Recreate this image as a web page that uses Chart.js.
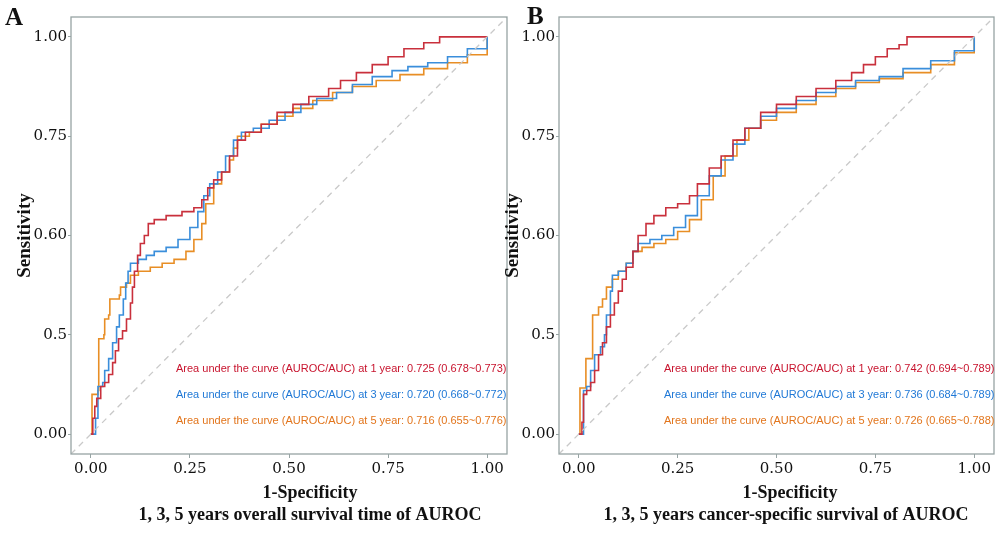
<!DOCTYPE html>
<html>
<head>
<meta charset="utf-8">
<script src="https://cdn.jsdelivr.net/npm/chart.js@4.4.1/dist/chart.umd.min.js"></script>
<style>
  html, body { margin: 0; padding: 0; background: #ffffff; }
  body { width: 1000px; height: 534px; position: relative; overflow: hidden; }
  .pane { position: absolute; top: 0; width: 510px; height: 534px; }
  #paneA { left: 0; }
  #paneB { left: 488px; }
</style>
</head>
<body>
<div class="pane" id="paneA"><canvas id="chartA"></canvas></div>
<div class="pane" id="paneB"><canvas id="chartB"></canvas></div>
<script>
// ---------- tick labels ----------
const xTickValues = [0, 0.25, 0.5, 0.75, 1];
const xTickLabels = ["0.00", "0.25", "0.50", "0.75", "1.00"];
const yTickValues = [0, 0.25, 0.5, 0.75, 1];
const yTickLabels = ["0.00", "0.5", "0.60", "0.75", "1.00"];

// ---------- texts ----------
const panelLetters = ["A", "B"];
const panelTitles = ["1, 3, 5 years overall survival time of AUROC", "1, 3, 5 years cancer-specific survival of AUROC"];
const xAxisTitle = "1-Specificity";
const yAxisTitle = "Sensitivity";
const aucTextA = [
  "Area under the curve (AUROC/AUC) at 1 year: 0.725 (0.678~0.773)",
  "Area under the curve (AUROC/AUC) at 3 year: 0.720 (0.668~0.772)",
  "Area under the curve (AUROC/AUC) at 5 year: 0.716 (0.655~0.776)"
];
const aucTextB = [
  "Area under the curve (AUROC/AUC) at 1 year: 0.742 (0.694~0.789)",
  "Area under the curve (AUROC/AUC) at 3 year: 0.736 (0.684~0.789)",
  "Area under the curve (AUROC/AUC) at 5 year: 0.726 (0.665~0.788)"
];

// reference diagonal (1-Specificity, Sensitivity)
const diagonal = [[-0.05, -0.05], [1.05, 1.05]];

// ---------- Panel A: overall survival ROC points [1-specificity, sensitivity] ----------
const rocA1 = [[0,0],[0.005,0.04],[0.01,0.07],[0.015,0.09],[0.025,0.12],[0.035,0.13],[0.045,0.15],[0.055,0.18],[0.062,0.21],[0.07,0.24],[0.08,0.26],[0.09,0.29],[0.1,0.33],[0.105,0.37],[0.11,0.41],[0.118,0.45],[0.125,0.48],[0.135,0.5],[0.145,0.53],[0.16,0.54],[0.19,0.55],[0.23,0.56],[0.26,0.57],[0.28,0.59],[0.295,0.62],[0.31,0.64],[0.33,0.66],[0.35,0.7],[0.37,0.74],[0.39,0.76],[0.43,0.78],[0.47,0.81],[0.51,0.83],[0.55,0.85],[0.6,0.87],[0.63,0.89],[0.67,0.91],[0.71,0.93],[0.75,0.95],[0.79,0.97],[0.84,0.985],[0.88,1.0],[1,1]];
const rocA3 = [[0,0],[0.012,0.04],[0.018,0.12],[0.03,0.13],[0.035,0.16],[0.045,0.19],[0.055,0.23],[0.065,0.27],[0.072,0.3],[0.082,0.34],[0.088,0.38],[0.094,0.41],[0.1,0.43],[0.12,0.44],[0.14,0.45],[0.16,0.46],[0.19,0.47],[0.22,0.49],[0.25,0.52],[0.27,0.56],[0.285,0.6],[0.3,0.63],[0.32,0.66],[0.34,0.7],[0.36,0.74],[0.38,0.76],[0.41,0.77],[0.45,0.79],[0.49,0.81],[0.53,0.83],[0.57,0.845],[0.62,0.86],[0.66,0.88],[0.71,0.9],[0.76,0.915],[0.8,0.925],[0.85,0.935],[0.9,0.95],[0.95,0.97],[1,1]];
const rocA5 = [[0,0],[0.003,0.1],[0.018,0.11],[0.02,0.24],[0.033,0.25],[0.035,0.29],[0.045,0.3],[0.048,0.34],[0.072,0.35],[0.075,0.37],[0.09,0.38],[0.1,0.4],[0.12,0.41],[0.15,0.42],[0.18,0.43],[0.21,0.44],[0.24,0.46],[0.26,0.49],[0.28,0.53],[0.29,0.58],[0.31,0.63],[0.33,0.66],[0.35,0.69],[0.36,0.72],[0.37,0.75],[0.4,0.76],[0.43,0.78],[0.47,0.8],[0.51,0.82],[0.56,0.84],[0.61,0.86],[0.66,0.875],[0.72,0.89],[0.78,0.905],[0.84,0.92],[0.9,0.935],[0.95,0.955],[1,1]];

// ---------- Panel B: cancer-specific survival ROC points ----------
const rocB1 = [[0,0],[0.008,0.03],[0.012,0.1],[0.02,0.11],[0.03,0.13],[0.04,0.16],[0.05,0.2],[0.06,0.23],[0.07,0.27],[0.08,0.3],[0.09,0.33],[0.1,0.36],[0.11,0.39],[0.12,0.42],[0.137,0.46],[0.15,0.5],[0.17,0.53],[0.19,0.55],[0.22,0.57],[0.25,0.58],[0.28,0.6],[0.3,0.63],[0.33,0.67],[0.36,0.7],[0.39,0.74],[0.42,0.77],[0.46,0.81],[0.5,0.83],[0.55,0.85],[0.6,0.87],[0.65,0.89],[0.69,0.91],[0.72,0.93],[0.75,0.95],[0.78,0.97],[0.81,0.98],[0.83,1.0],[1,1]];
const rocB3 = [[0,0],[0.012,0.11],[0.02,0.12],[0.03,0.16],[0.04,0.2],[0.055,0.22],[0.065,0.25],[0.07,0.3],[0.08,0.36],[0.085,0.4],[0.1,0.41],[0.12,0.43],[0.137,0.46],[0.15,0.48],[0.18,0.49],[0.21,0.5],[0.24,0.52],[0.27,0.55],[0.3,0.6],[0.33,0.65],[0.36,0.69],[0.39,0.73],[0.42,0.77],[0.46,0.8],[0.5,0.82],[0.55,0.84],[0.6,0.86],[0.65,0.875],[0.7,0.89],[0.76,0.9],[0.82,0.92],[0.89,0.94],[0.95,0.965],[1,1]];
const rocB5 = [[0,0],[0.003,0.116],[0.018,0.19],[0.035,0.3],[0.05,0.32],[0.06,0.34],[0.07,0.37],[0.085,0.39],[0.1,0.41],[0.12,0.43],[0.137,0.46],[0.16,0.47],[0.19,0.48],[0.22,0.49],[0.25,0.51],[0.28,0.54],[0.31,0.59],[0.34,0.65],[0.37,0.7],[0.4,0.74],[0.43,0.77],[0.46,0.79],[0.5,0.81],[0.55,0.83],[0.6,0.85],[0.65,0.87],[0.7,0.885],[0.76,0.895],[0.82,0.91],[0.89,0.93],[0.95,0.96],[1,1]];

// ---------- styling ----------
const colRed = "#c9303c", colBlue = "#3a8edb", colOrange = "#e88e25";
const txtRed = "#c8142e", txtBlue = "#1f78d6", txtOrange = "#e2751c";
const frameColor = "#97a4a4";
const serif = "'Liberation Serif', 'DejaVu Serif', serif";
const tickFont = "'DejaVu Serif', serif";

function toXY(arr) { return arr.map(p => ({ x: p[0], y: p[1] })); }

function makeOverlay(cfg) {
  return {
    id: 'overlay' + cfg.letter,
    afterDraw(chart) {
      const ctx = chart.ctx, a = chart.chartArea;
      ctx.save();
      // frame
      ctx.strokeStyle = frameColor; ctx.lineWidth = 1.3;
      ctx.strokeRect(a.left, a.top, a.right - a.left, a.bottom - a.top);
      // panel letter
      ctx.fillStyle = "#111"; ctx.font = "bold 25px " + serif;
      ctx.textAlign = "left"; ctx.textBaseline = "alphabetic";
      ctx.fillText(cfg.letter, cfg.letterX, cfg.letterY);
      // x axis titles
      ctx.textAlign = "center"; ctx.textBaseline = "middle";
      ctx.font = "bold 18px " + serif;
      ctx.fillText(xAxisTitle, cfg.titleX, 493);
      ctx.fillText(cfg.title, cfg.subX, 515);
      // AUC texts, clipped to the panel
      ctx.beginPath(); ctx.rect(a.left, a.top, a.right - a.left, a.bottom - a.top); ctx.clip();
      ctx.font = "11px 'Liberation Sans', Arial, sans-serif";
      ctx.textAlign = "left";
      const cols = [txtRed, txtBlue, txtOrange];
      const offs = [352, 378, 404];
      cfg.auc.forEach((t, i) => {
        ctx.fillStyle = cols[i];
        ctx.fillText(t, a.left + 105, a.top + offs[i]);
      });
      ctx.restore();
    }
  };
}

function makeChart(id, d1, d3, d5, cfg) {
  const ds = (data, color) => ({
    data: toXY(data), borderColor: color, borderWidth: 1.6, pointRadius: 0,
    stepped: 'before', fill: false, tension: 0
  });
  return new Chart(document.getElementById(id), {
    type: 'line',
    data: {
      datasets: [
        { data: toXY(diagonal), borderColor: "#c9c9c9", borderWidth: 1.3, borderDash: [6, 5], pointRadius: 0, fill: false },
        ds(d1, colRed), ds(d3, colBlue), ds(d5, colOrange)
      ]
    },
    options: {
      responsive: true, maintainAspectRatio: false, animation: false,
      layout: { padding: { left: 0, right: cfg.padRight, top: 17, bottom: 0 } },
      plugins: { legend: { display: false }, tooltip: { enabled: false } },
      scales: {
        x: {
          type: 'linear', min: -0.05, max: 1.05,
          afterBuildTicks: s => { s.ticks = xTickValues.map(v => ({ value: v })); },
          afterFit: s => { s.height = 80; },
          ticks: { callback: (v, i) => xTickLabels[i], color: "#111", font: { family: tickFont, size: 15 }, padding: 2, maxRotation: 0 },
          grid: { drawOnChartArea: false, drawTicks: true, tickLength: 4, color: frameColor },
          border: { display: false }
        },
        y: {
          type: 'linear', min: -0.05, max: 1.05,
          afterBuildTicks: s => { s.ticks = yTickValues.map(v => ({ value: v })); },
          afterFit: s => { s.width = 71; },
          ticks: { callback: (v, i) => yTickLabels[i], color: "#111", font: { family: tickFont, size: 15 }, padding: 1 },
          grid: { drawOnChartArea: false, drawTicks: true, tickLength: 3, color: frameColor },
          border: { display: false },
          title: { display: true, text: yAxisTitle, color: "#111", font: { family: serif, size: 19, weight: 'bold' }, padding: { top: 14, bottom: 0 } }
        }
      }
    },
    plugins: [makeOverlay(cfg)]
  });
}

makeChart('chartA', rocA1, rocA3, rocA5, { letter: panelLetters[0], letterX: 5, letterY: 25, titleX: 310, subX: 310, title: panelTitles[0], auc: aucTextA, padRight: 3 });
makeChart('chartB', rocB1, rocB3, rocB5, { letter: panelLetters[1], letterX: 39, letterY: 24, titleX: 302, subX: 298, title: panelTitles[1], auc: aucTextB, padRight: 4 });
</script>
</body>
</html>
